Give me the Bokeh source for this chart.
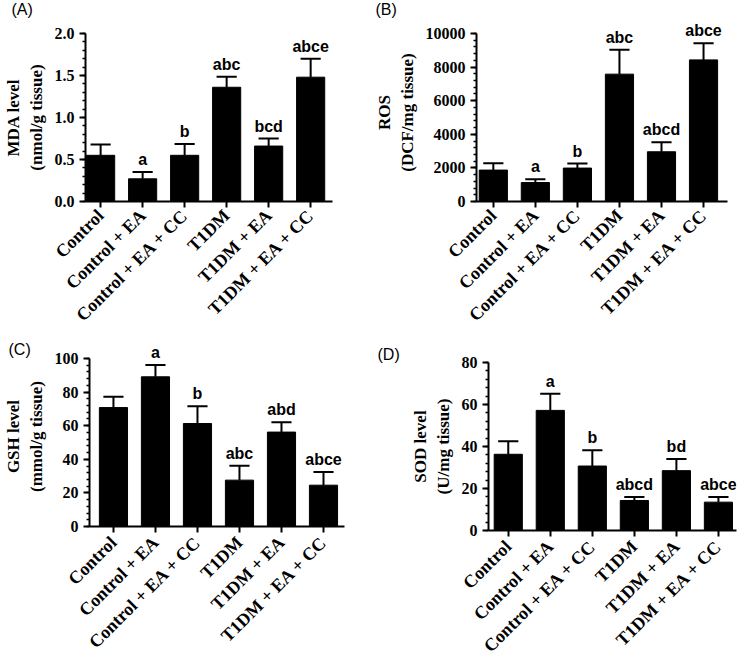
import numpy as np
from bokeh.plotting import figure
from bokeh.layouts import column, row
from bokeh.models import ColumnDataSource, FixedTicker, LabelSet, Label, Range1d
from bokeh.core.properties import value
from bokeh.embed import file_html
from bokeh.resources import INLINE

groups = ["Control", "Control + EA", "Control + EA + CC", "T1DM", "T1DM + EA", "T1DM + EA + CC"]

mda_mean = [0.55, 0.27, 0.55, 1.36, 0.66, 1.48]
mda_sd = [0.13, 0.08, 0.135, 0.125, 0.09, 0.22]
mda_sig = ["", "a", "b", "abc", "bcd", "abce"]
mda_ticks = [0.0, 0.5, 1.0, 1.5, 2.0]

ros_mean = [1870, 1130, 1990, 7580, 2960, 8430]
ros_sd = [410, 200, 270, 1450, 560, 990]
ros_sig = ["", "a", "b", "abc", "abcd", "abce"]
ros_ticks = [0, 2000, 4000, 6000, 8000, 10000]

gsh_mean = [70.8, 89.1, 61.3, 27.6, 56.2, 24.6]
gsh_sd = [6.4, 7.1, 10.3, 8.5, 5.9, 7.9]
gsh_sig = ["", "a", "b", "abc", "abd", "abce"]
gsh_ticks = [0, 20, 40, 60, 80, 100]

sod_mean = [36.3, 57.2, 30.7, 14.3, 28.5, 13.5]
sod_sd = [6.2, 7.9, 7.5, 1.7, 5.6, 2.5]
sod_sig = ["", "a", "b", "abcd", "bd", "abce"]
sod_ticks = [0, 20, 40, 60, 80]

SERIF = "Liberation Serif"
SANS = "Liberation Sans"
AXIS_H = 168


def panel(tag, mean, sd, sig, ticks, minor_step, fmt, ylabel,
          fig_w, left, frame_w, top, ext, bottom, xlo, xhi,
          tag_side, tag_x, tag_y, xfs, xstand):
    x = list(range(len(groups)))
    upper = [m + s for m, s in zip(mean, sd)]
    src = ColumnDataSource(dict(
        x=x, mean=mean, upper=upper, sig=sig,
        cl=[v - 0.24 for v in x], cr=[v + 0.24 for v in x]))
    y_end = ticks[-1] * (AXIS_H + ext) / AXIS_H
    p = figure(frame_width=frame_w, frame_height=AXIS_H + ext,
               min_border_left=left, min_border_right=fig_w - left - frame_w,
               min_border_top=top - ext, min_border_bottom=bottom,
               x_range=Range1d(xlo, xhi), y_range=Range1d(ticks[0], y_end),
               output_backend="svg", toolbar_location=None, tools="")
    p.frame_align = False
    p.outline_line_color = None
    p.grid.grid_line_color = None
    p.background_fill_color = "white"
    p.border_fill_color = "white"

    p.vbar(x="x", top="mean", width=0.67, bottom=0, source=src,
           fill_color="black", line_color="black")
    p.segment(x0="x", y0="mean", x1="x", y1="upper", source=src,
              line_color="black", line_width=2)
    p.segment(x0="cl", y0="upper", x1="cr", y1="upper", source=src,
              line_color="black", line_width=2)

    labels = LabelSet(x="x", y="upper", text="sig", source=src,
                      text_align="center", text_baseline="bottom", y_offset=4,
                      text_font=value(SANS), text_font_style="bold",
                      text_font_size="16px", text_color="black")
    p.add_layout(labels)

    # y axis
    ya = p.yaxis[0]
    ya.bounds = (ticks[0], ticks[-1])
    minor = list(np.arange(ticks[0], ticks[-1] + minor_step / 2, minor_step))
    ya.ticker = FixedTicker(ticks=ticks, minor_ticks=minor)
    ya.major_label_overrides = {t: fmt(t) for t in ticks}
    ya.axis_label = ylabel
    ya.axis_label_text_font = SERIF
    ya.axis_label_text_font_style = "bold"
    ya.axis_label_text_font_size = "17px"
    ya.axis_label_text_color = "black"
    ya.axis_label_standoff = 6
    ya.major_label_text_font = SERIF
    ya.major_label_text_font_style = "bold"
    ya.major_label_text_font_size = "16px"
    ya.major_label_text_color = "black"
    ya.major_label_standoff = 5
    ya.axis_line_width = 2
    ya.major_tick_line_width = 2
    ya.minor_tick_line_width = 1.5
    ya.major_tick_out = 6
    ya.major_tick_in = 0
    ya.minor_tick_out = 3
    ya.minor_tick_in = 0

    # x axis
    xa = p.xaxis[0]
    xa.ticker = FixedTicker(ticks=x)
    xa.major_label_overrides = {i: g for i, g in zip(x, groups)}
    xa.major_label_orientation = np.pi / 4
    xa.major_label_text_font = SERIF
    xa.major_label_text_font_style = "bold"
    xa.major_label_text_font_size = xfs
    xa.major_label_text_color = "black"
    xa.major_label_standoff = xstand
    xa.axis_line_width = 2
    xa.major_tick_line_width = 2
    xa.major_tick_out = 6
    xa.major_tick_in = 0
    xa.minor_tick_line_color = None

    p.add_layout(Label(x=tag_x, y=tag_y, x_units="screen", y_units="screen",
                       text=tag, text_font=SANS, text_font_size="16px",
                       text_baseline="top", text_align="left", text_color="black"),
                 tag_side)
    return p


fmt1 = lambda t: f"{t:.1f}"
fmt0 = lambda t: f"{t:.0f}"

pa = panel("(A)", mda_mean, mda_sd, mda_sig, mda_ticks, 0.1, fmt1,
           "MDA level\n(nmol/g tissue)",
           330, 74, 247, 33, 0, 131, -0.36, 5.52,
           "above", -74, 33, "18px", 5)
pb = panel("(B)", ros_mean, ros_sd, ros_sig, ros_ticks, 400, fmt0,
           "ROS\n(DCF/mg tissue)",
           396, 135, 251, 33, 10, 131, -0.40, 5.57,
           "left", 25, 201, "18px", 5)
pc = panel("(C)", gsh_mean, gsh_sd, gsh_sig, gsh_ticks, 4, fmt0,
           "GSH level\n(mmol/g tissue)",
           366, 77, 255, 23, 12, 110, -0.57, 5.50,
           "right", -336, 186, "18px", 7)
pd = panel("(D)", sod_mean, sod_sd, sod_sig, sod_ticks, 4, fmt0,
           "SOD level\n(U/mg tissue)",
           360, 110, 248, 27, 0, 110, -0.47, 5.43,
           "above", -111, 17, "18px", 7)

layout = column(row(pa, pb, spacing=0), row(pc, pd, spacing=0), spacing=0)

with open("out.html", "w") as f:
    f.write(file_html(layout, INLINE))
